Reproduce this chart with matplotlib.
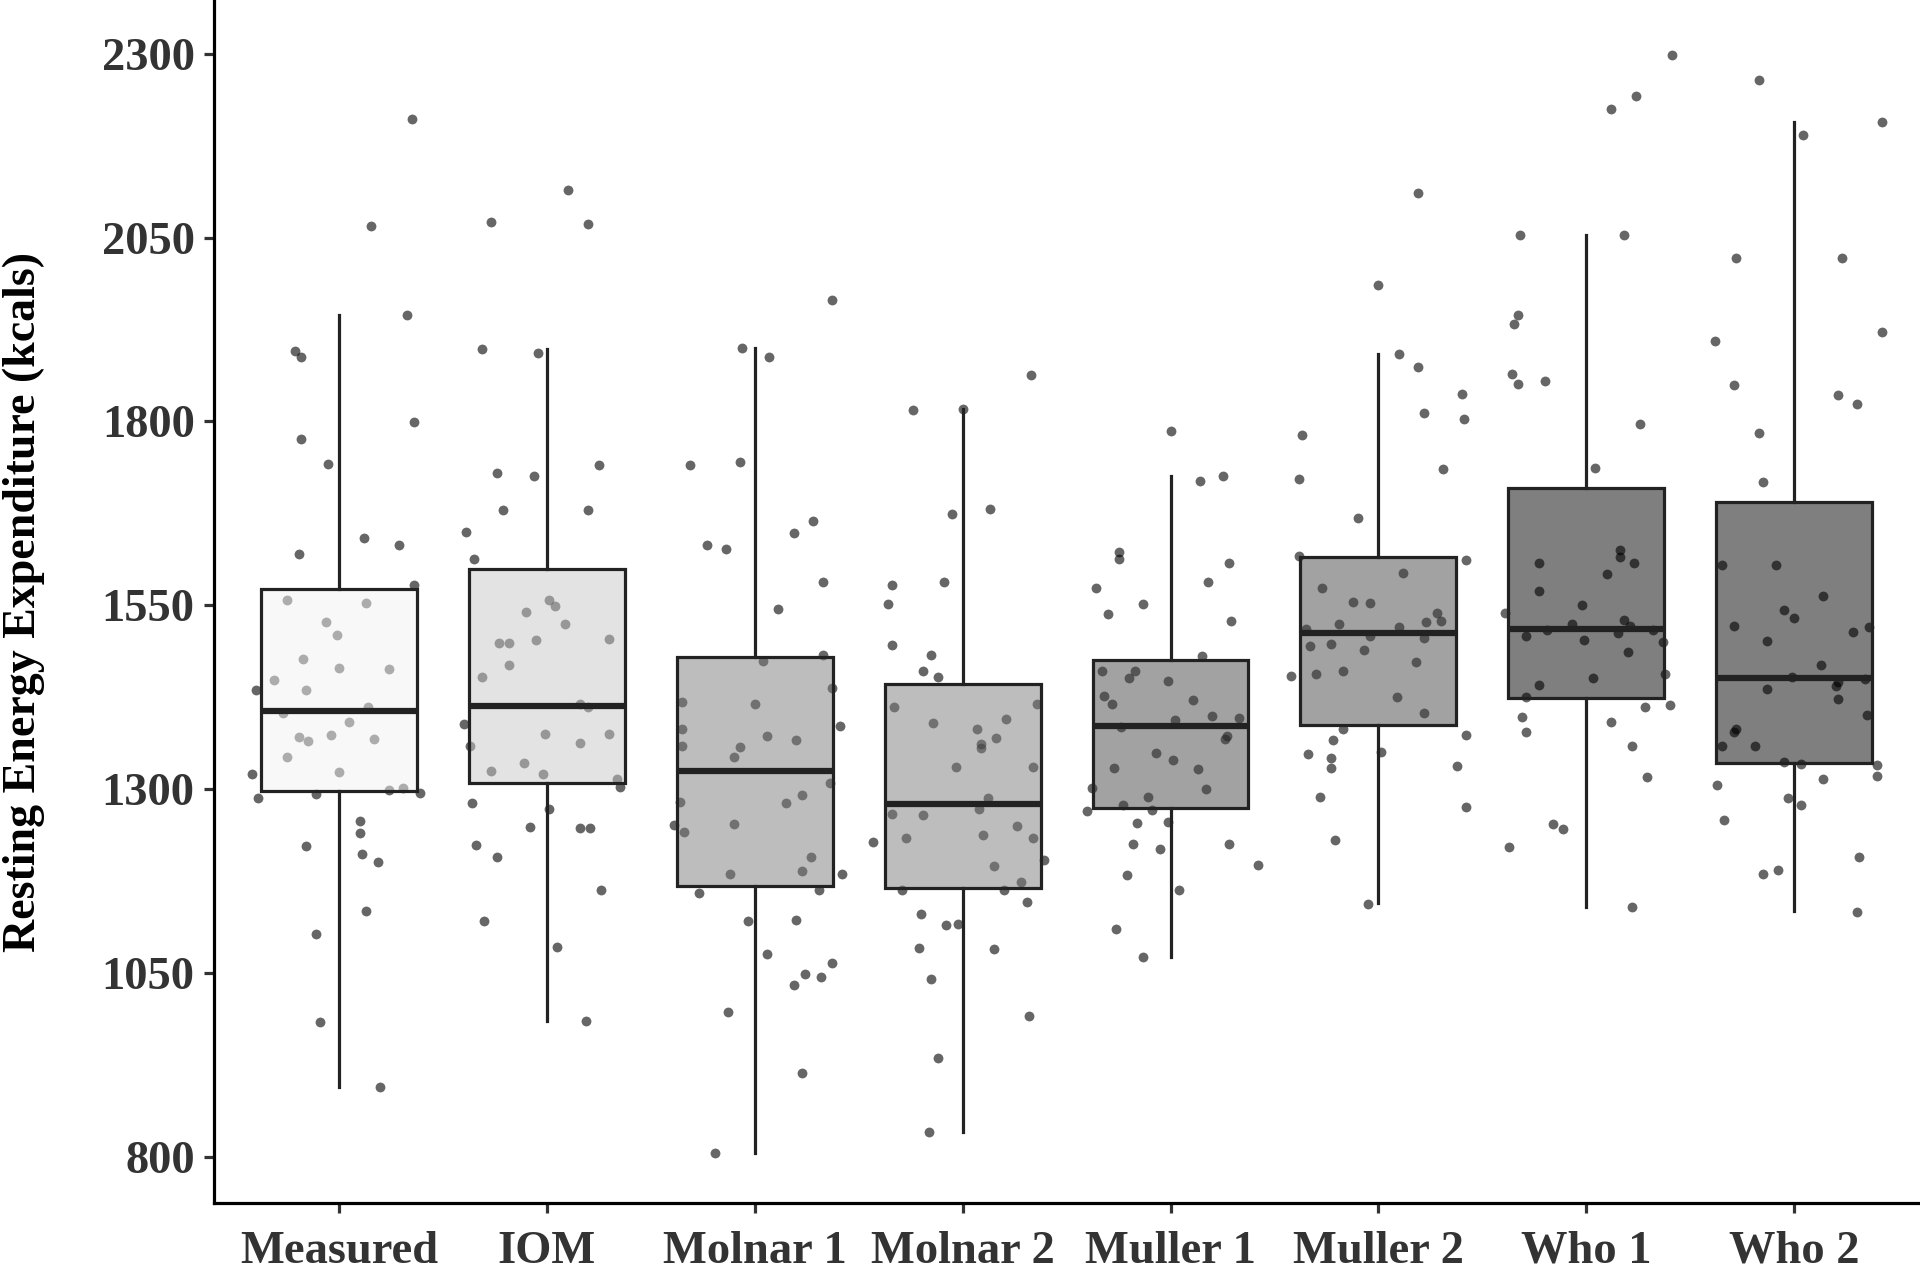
import numpy as np
import matplotlib
matplotlib.use('Agg')
from matplotlib import pyplot as plt
from matplotlib.colors import to_rgba

plt.rcParams['font.family'] = ['Liberation Serif', 'DejaVu Serif']
plt.rcParams['font.weight'] = 'bold'

groups = ['Measured', 'IOM', 'Molnar 1', 'Molnar 2', 'Muller 1', 'Muller 2', 'Who 1', 'Who 2']

# box summaries (kcals)
q1 = [1297, 1308, 1168, 1165, 1274, 1387, 1424, 1335]
med = [1406, 1413, 1324, 1280, 1386, 1512, 1518, 1451]
q3 = [1572, 1599, 1480, 1443, 1476, 1615, 1709, 1691]
whislo = [895, 984, 805, 834, 1072, 1145, 1139, 1134]
whishi = [1945, 1898, 1900, 1817, 1726, 1891, 2053, 2207]

# individual points (kcals) + horizontal jitter
measured = [2211, 2066, 1945, 1895, 1887, 1799, 1776, 1742, 1641, 1632, 1619, 1577, 1557, 1553, 1527, 1509,
            1477, 1464, 1463, 1448, 1434, 1434, 1404, 1411, 1391, 1371, 1365, 1374, 1368, 1343, 1321, 1323,
            1288, 1293, 1299, 1301, 1295, 1256, 1240, 1223, 1212, 1201, 1134, 1103, 983, 895]
measured_jit = [0.35, 0.155, 0.33, -0.21, -0.18, 0.36, -0.18, -0.05, 0.12, 0.29, -0.19, 0.36, -0.25, 0.13, -0.06, -0.01,
                -0.17, 0.0, 0.24, -0.31, -0.40, -0.16, -0.27, 0.14, 0.05, -0.19, -0.15, -0.04, 0.17, -0.25, -0.42, 0.0,
                -0.39, -0.11, 0.24, 0.31, 0.39, 0.10, 0.10, -0.16, 0.11, 0.19, 0.13, -0.11, -0.09, 0.20]

iom = [2114, 2071, 2069, 1898, 1893, 1740, 1730, 1726, 1679, 1679, 1649, 1613, 1557, 1549, 1541, 1525,
       1503, 1504, 1498, 1498, 1468, 1452, 1416, 1411, 1388, 1375, 1375, 1359, 1363, 1324, 1336, 1321,
       1314, 1303, 1281, 1273, 1248, 1247, 1247, 1224, 1207, 1162, 1121, 1085, 984]
iom_jit = [0.10, -0.27, 0.20, -0.31, -0.04, 0.25, -0.24, -0.06, -0.21, 0.20, -0.39, -0.35, 0.01, 0.04, -0.10, 0.09,
           -0.05, 0.30, -0.23, -0.18, -0.18, -0.31, 0.16, 0.20, -0.40, -0.01, 0.30, -0.37, 0.16, -0.27, -0.11, -0.02,
           0.34, 0.35, -0.36, 0.01, -0.08, 0.16, 0.21, -0.34, -0.24, 0.26, -0.30, 0.05, 0.19]

molnar1 = [1965, 1900, 1887, 1740, 1745, 1665, 1648, 1632, 1627, 1581, 1545, 1482, 1474, 1438, 1419, 1416,
           1386, 1382, 1372, 1366, 1358, 1357, 1344, 1308, 1292, 1282, 1281, 1251, 1252, 1241, 1207, 1189,
           1184, 1184, 1158, 1162, 1121, 1122, 1075, 1064, 1049, 1044, 1034, 997, 914, 805]
molnar1_jit = [0.37, -0.06, 0.07, -0.31, -0.07, 0.28, 0.19, -0.23, -0.14, 0.33, 0.11, 0.33, 0.04, 0.37, -0.35, 0.0,
               0.41, -0.35, 0.06, 0.20, -0.35, -0.07, -0.10, 0.36, 0.23, -0.36, 0.15, -0.39, -0.10, -0.34, 0.27, 0.23,
               -0.12, 0.42, -0.27, 0.31, -0.03, 0.20, 0.06, 0.37, 0.24, 0.32, 0.19, -0.13, 0.23, -0.19]

molnar2 = [1863, 1815, 1817, 1681, 1674, 1578, 1582, 1551, 1496, 1482, 1460, 1453, 1411, 1415, 1390, 1395,
           1382, 1370, 1361, 1356, 1330, 1330, 1288, 1273, 1266, 1264, 1228, 1234, 1237, 1250, 1233, 1203,
           1195, 1174, 1163, 1163, 1146, 1130, 1115, 1117, 1084, 1083, 1041, 992, 934, 834]
molnar2_jit = [0.33, -0.24, 0.0, 0.13, -0.05, -0.34, -0.09, -0.36, -0.34, -0.15, -0.19, -0.12, -0.33, 0.36, -0.14, 0.21,
               0.07, 0.16, 0.09, 0.09, -0.03, 0.34, 0.12, 0.08, -0.34, -0.19, -0.43, -0.27, 0.10, 0.26, 0.34, 0.39,
               0.15, 0.28, -0.29, 0.20, 0.31, -0.20, -0.08, -0.02, -0.21, 0.15, -0.15, 0.32, -0.12, -0.16]

muller1 = [1787, 1719, 1726, 1622, 1613, 1608, 1574, 1582, 1551, 1538, 1529, 1481, 1460, 1461, 1451, 1447,
           1427, 1416, 1421, 1399, 1397, 1394, 1385, 1372, 1368, 1349, 1339, 1328, 1327, 1302, 1300, 1289,
           1270, 1278, 1271, 1254, 1255, 1225, 1219, 1225, 1197, 1183, 1162, 1110, 1072]
muller1_jit = [0.0, 0.14, 0.25, -0.25, -0.25, 0.28, -0.36, 0.18, -0.13, -0.30, 0.29, 0.15, -0.33, -0.17, -0.20, -0.01,
               -0.32, -0.28, 0.11, 0.20, 0.33, 0.02, -0.24, 0.27, 0.26, -0.07, 0.01, -0.27, 0.13, -0.38, 0.17, -0.11,
               -0.40, -0.23, -0.09, -0.16, -0.01, -0.18, -0.05, 0.28, 0.42, -0.21, 0.04, -0.26, -0.13]

muller2 = [2111, 1985, 1891, 1874, 1837, 1811, 1803, 1782, 1722, 1735, 1668, 1617, 1612, 1594, 1574, 1555,
           1553, 1540, 1525, 1527, 1529, 1517, 1520, 1508, 1505, 1494, 1497, 1489, 1473, 1454, 1456, 1460,
           1425, 1404, 1381, 1366, 1374, 1347, 1342, 1350, 1328, 1331, 1289, 1276, 1230, 1144]
muller2_jit = [0.19, 0.0, 0.10, 0.19, 0.40, 0.22, 0.41, -0.37, -0.38, 0.31, -0.10, -0.38, 0.42, 0.12, -0.27, -0.12,
               -0.04, 0.28, -0.19, 0.23, 0.30, -0.35, 0.10, -0.04, 0.22, -0.33, -0.23, -0.07, 0.18, -0.42, -0.30, -0.17,
               0.09, 0.22, -0.17, -0.22, 0.42, -0.34, -0.23, 0.01, -0.23, 0.38, -0.28, 0.42, -0.21, -0.05]

who1 = [2298, 2242, 2225, 2053, 2053, 1944, 1932, 1865, 1851, 1855, 1797, 1736, 1625, 1616, 1608, 1607,
        1593, 1569, 1550, 1539, 1530, 1525, 1522, 1516, 1516, 1508, 1512, 1502, 1500, 1487, 1457, 1451,
        1441, 1425, 1411, 1414, 1398, 1391, 1377, 1359, 1316, 1252, 1246, 1221, 1139]
who1_jit = [0.41, 0.24, 0.12, -0.32, 0.18, -0.33, -0.35, -0.36, -0.33, -0.20, 0.26, 0.04, 0.16, 0.16, 0.23, -0.23,
            0.10, -0.23, -0.02, -0.39, 0.18, -0.07, 0.21, -0.19, 0.32, -0.29, 0.15, -0.01, 0.37, 0.20, 0.38, 0.03,
            -0.23, -0.29, 0.28, 0.40, -0.31, 0.12, -0.29, 0.22, 0.29, -0.16, -0.11, -0.37, 0.22]

who2 = [2264, 2189, 2207, 2022, 2022, 1909, 1922, 1850, 1836, 1824, 1784, 1718, 1604, 1605, 1562, 1544,
        1533, 1522, 1513, 1520, 1501, 1468, 1452, 1440, 1445, 1449, 1436, 1422, 1401, 1381, 1378, 1358,
        1358, 1337, 1334, 1333, 1318, 1313, 1305, 1288, 1278, 1258, 1207, 1185, 1190, 1133]
who2_jit = [-0.17, 0.04, 0.42, -0.28, 0.23, -0.38, 0.42, -0.29, 0.21, 0.30, -0.17, -0.15, -0.35, -0.09, 0.14, -0.05,
            0.0, -0.29, 0.28, 0.36, -0.13, 0.13, -0.01, 0.20, 0.21, 0.34, -0.13, 0.21, 0.35, -0.28, -0.29, -0.35,
            -0.19, -0.05, 0.03, 0.40, 0.40, 0.14, -0.37, -0.03, 0.03, -0.34, 0.31, -0.15, -0.08, 0.30]

points = [measured, iom, molnar1, molnar2, muller1, muller2, who1, who2]
jitter = [measured_jit, iom_jit, molnar1_jit, molnar2_jit, muller1_jit, muller2_jit, who1_jit, who2_jit]
fills = ['#f2f2f2', '#c8c8c8', '#7d7d7d', '#7d7d7d', '#464646', '#464646', '#000000', '#000000']

fig = plt.figure(figsize=(19.2, 12.69), dpi=100)
ax = fig.add_axes([0.1115, 0.052, 0.888, 0.948])

pos = np.arange(1, len(groups) + 1)

# jittered points go underneath the half-transparent boxes
for i in range(len(groups)):
    y = np.array(points[i])
    x = pos[i] + np.array(jitter[i])
    ax.scatter(x, y, s=50, color='black', alpha=0.6, linewidths=0, zorder=2)

stats = []
for i in range(len(groups)):
    stats.append(dict(med=med[i], q1=q1[i], q3=q3[i], whislo=whislo[i], whishi=whishi[i], label=groups[i]))

bp = ax.bxp(stats, positions=pos, widths=0.75, patch_artist=True, showfliers=False, showcaps=False,
            boxprops=dict(edgecolor='#222222', linewidth=2.3),
            whiskerprops=dict(color='#222222', linewidth=2.3),
            medianprops=dict(color='#222222', linewidth=4.5),
            zorder=3)
for box, c in zip(bp['boxes'], fills):
    box.set_facecolor(to_rgba(c, 0.5))

ax.set_xlim(0.4, 8.6)
ax.set_ylim(737, 2373)
ax.set_yticks([800, 1050, 1300, 1550, 1800, 2050, 2300])
ax.set_xticks(pos)
ax.set_xticklabels(groups)

ax.spines['top'].set_visible(False)
ax.spines['right'].set_visible(False)
for s in ['left', 'bottom']:
    ax.spines[s].set_linewidth(2.3)
ax.tick_params(axis='both', length=7, width=2.3, color='#333333', labelcolor='#333333', labelsize=33.5)
ax.tick_params(axis='y', pad=7)
ax.tick_params(axis='x', pad=13)

ax.set_ylabel('Resting Energy Expenditure (kcals)', fontsize=33, fontweight='bold', color='black')
ax.yaxis.set_label_coords(-0.099, 0.5)

plt.savefig('out.png', dpi=100)
